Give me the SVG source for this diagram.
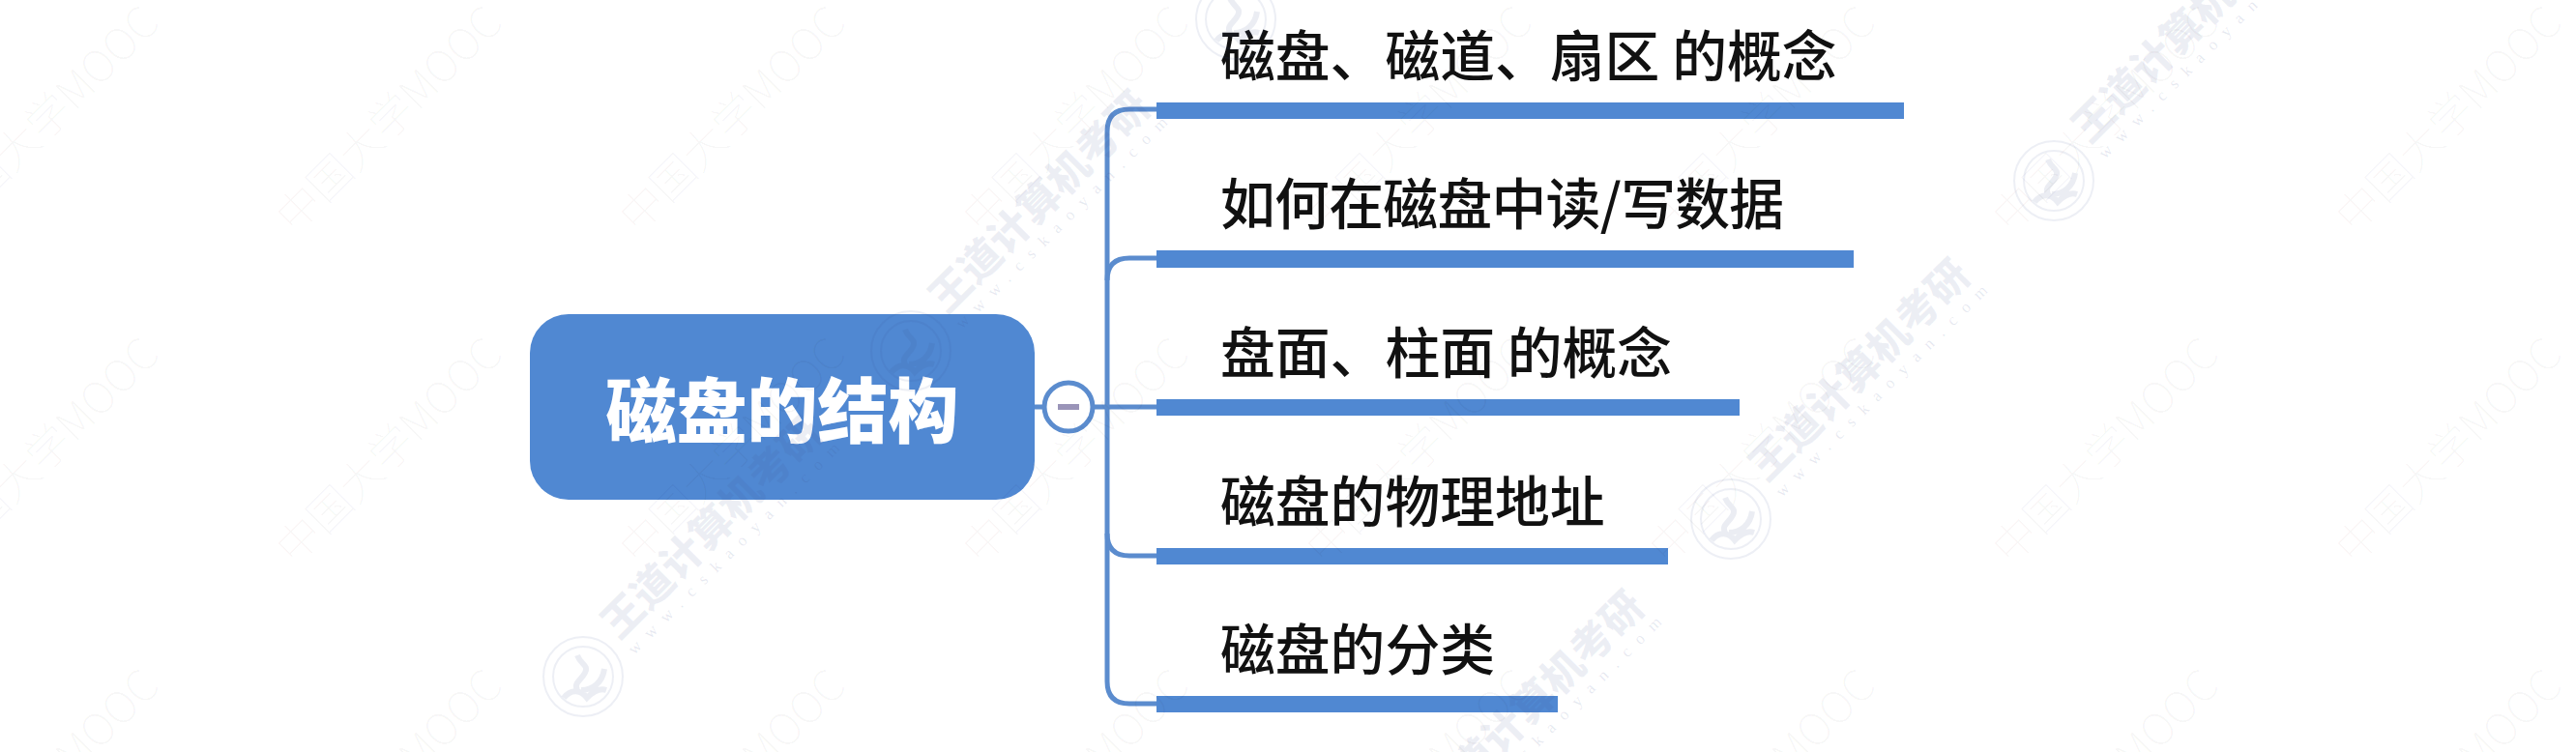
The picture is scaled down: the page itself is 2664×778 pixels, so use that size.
<svg xmlns="http://www.w3.org/2000/svg" xmlns:xlink="http://www.w3.org/1999/xlink" width="2664" height="778" viewBox="0 0 2664 778">
<style>
.bar{fill:#5088d2}
.con{fill:none;stroke:#5b8cce;stroke-width:5}
.t{font-family:"Noto Sans CJK SC","Liberation Sans",sans-serif;font-size:56.8px;font-weight:500;fill:#111}
.title{font-family:"Noto Sans CJK SC","Liberation Sans",sans-serif;font-size:73px;font-weight:900;fill:#fff;text-anchor:middle}
.wm{font-family:"Noto Sans CJK SC","Liberation Sans",sans-serif;font-size:45px;font-weight:100;fill:#000;fill-opacity:.05}
.wd{font-family:"Noto Sans CJK SC","Liberation Sans",sans-serif;font-size:43px;font-weight:900;fill:#3c4a8c;fill-opacity:.09}
.url{font-family:"Liberation Serif",serif;font-size:17px;letter-spacing:11px;fill:#3c4a8c;fill-opacity:.13}
.lg{fill:none;stroke:#3c4a8c;stroke-opacity:.09;stroke-width:2}
.lt{fill:none;stroke:#3c4a8c;stroke-opacity:.1;stroke-width:6}
</style>
<defs>
<g id="mk"><text class="wm" x="0" y="0" transform="rotate(-45)">中国大学MOOC</text></g>
<g id="wd">
<circle class="lg" r="41"/><circle class="lg" r="31"/>
<path class="lt" d="M-6-22C-2-12 6-12 2-4-2 4-10 6-6 14M22-8C20 6 10 14-2 14M-20 22C-12 12-2 14 4 22 12 14 18 12 24 14"/>
<text class="wd" x="0" y="0" transform="translate(37,-37) rotate(-45)">王道计算机考研</text>
<text class="url" x="0" y="0" transform="translate(53,-22) rotate(-45)">www.cskaoyan.com</text>
</g>
</defs>
<rect width="2664" height="778" fill="#fff"/>
<g id="connectors">
<path class="con" d="M1070 421H1196"/>
<path class="con" d="M1196 113H1168Q1145 113 1145 136V705Q1145 728 1168 728H1196"/>
<path class="con" d="M1196 267H1168Q1145 267 1145 290"/>
<path class="con" d="M1145 552Q1145 575 1168 575H1196"/>
</g>
<g id="root">
<rect x="548" y="325" width="522" height="192" rx="40" fill="#5088d2"/>
<text class="title" x="809" y="452">磁盘的结构</text>
</g>
<g id="collapse">
<circle cx="1105" cy="421" r="25" fill="#fff" stroke="#5b8cce" stroke-width="5"/>
<rect x="1094" y="418" width="22" height="6" fill="#9a94b8"/>
</g>
<g id="n1"><rect class="bar" x="1196" y="106" width="773" height="17"/><text class="t" x="1262" y="79">磁盘、磁道、扇区 的概念</text></g>
<g id="n2"><rect class="bar" x="1196" y="259" width="721" height="18"/><text class="t" x="1262" y="232" letter-spacing="-0.7">如何在磁盘中读/写数据</text></g>
<g id="n3"><rect class="bar" x="1196" y="413" width="603" height="17"/><text class="t" x="1262" y="386">盘面、柱面 的概念</text></g>
<g id="n4"><rect class="bar" x="1196" y="567" width="529" height="17"/><text class="t" x="1262" y="540">磁盘的物理地址</text></g>
<g id="n5"><rect class="bar" x="1196" y="720" width="415" height="17"/><text class="t" x="1262" y="693">磁盘的分类</text></g>
<g id="watermarks">
<use xlink:href="#mk" href="#mk" x="-50" y="243"/><use href="#mk" x="305" y="243"/><use href="#mk" x="660" y="243"/><use href="#mk" x="1015" y="243"/><use href="#mk" x="1370" y="243"/><use href="#mk" x="1725" y="243"/><use href="#mk" x="2080" y="243"/><use href="#mk" x="2435" y="243"/>
<use href="#mk" x="-50" y="586"/><use href="#mk" x="305" y="586"/><use href="#mk" x="660" y="586"/><use href="#mk" x="1015" y="586"/><use href="#mk" x="1370" y="586"/><use href="#mk" x="1725" y="586"/><use href="#mk" x="2080" y="586"/><use href="#mk" x="2435" y="586"/>
<use href="#mk" x="-50" y="929"/><use href="#mk" x="305" y="929"/><use href="#mk" x="660" y="929"/><use href="#mk" x="1015" y="929"/><use href="#mk" x="1370" y="929"/><use href="#mk" x="1725" y="929"/><use href="#mk" x="2080" y="929"/><use href="#mk" x="2435" y="929"/>
<use href="#wd" x="1278" y="20"/><use href="#wd" x="942" y="363"/><use href="#wd" x="603" y="700"/><use href="#wd" x="1790" y="537"/><use href="#wd" x="2124" y="187"/><use href="#wd" x="1453" y="880"/>
</g>
</svg>
